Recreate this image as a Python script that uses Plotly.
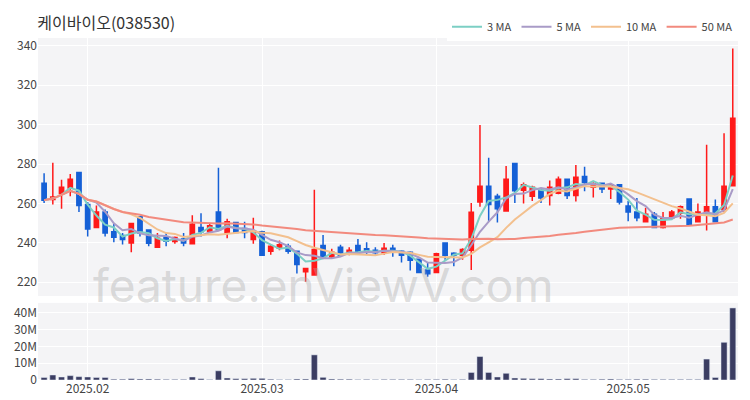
import pandas as pd
import plotly.graph_objects as go
from plotly.subplots import make_subplots

holidays = ['2025-01-27', '2025-01-28', '2025-01-29', '2025-01-30', '2025-03-03',
            '2025-05-01', '2025-05-05', '2025-05-06']
dates = [d.strftime('%Y-%m-%d') for d in pd.bdate_range('2025-01-21', '2025-05-22')
         if d.strftime('%Y-%m-%d') not in holidays]

opens = [270.3, 262, 265, 267.8, 275.7, 259.5, 247.8, 255.7, 245.7, 243.7,
         240, 253.3, 246.5, 237.8, 242.8, 240.7, 242, 239.5, 247.8, 245.8,
         255.7, 245, 250.3, 247.3, 241.7, 245.7, 235.8, 237.3, 238.3, 235.7,
         225.3, 223.7, 238.7, 232.8, 237.8, 234.5, 238.7, 237, 236.2, 235,
         237.3, 235.7, 235.3, 231.7, 226.2, 225, 240, 234.8, 233.7, 236.3,
         260.7, 268.7, 263.7, 256.2, 280.3, 266.7, 263.7, 266.7, 264, 265.2,
         272.3, 264, 273.7, 268.3, 270.3, 267.3, 269.5, 258.7, 255.7, 250.7,
         254.5, 247.8, 252.8, 255, 262.3, 250.7, 255.2, 258.3, 257, 269]
highs = [275.3, 280.7, 272, 275, 275.7, 260.7, 259, 257, 250, 245,
         249.8, 253.3, 246.5, 245, 245, 243.3, 245, 254, 255, 250,
         278.2, 252.3, 250.7, 250.7, 252.8, 246.2, 239, 241.2, 239.5, 235.7,
         227.3, 267, 244, 237, 239, 237.8, 242, 240.3, 237.8, 240,
         239, 236.2, 235.7, 231.7, 230, 235, 240, 235.3, 237.3, 260.3,
         299.8, 283.2, 265, 279, 280.3, 270.7, 269, 267.3, 271.7, 273.7,
         272.3, 279.5, 278.7, 270.8, 270.3, 270, 269.5, 261.2, 262.8, 257.8,
         255.7, 255.7, 256.7, 259, 262.3, 260, 289.8, 262, 295.7, 338.7]
lows = [260.3, 259.5, 257.3, 263.7, 255.7, 243.3, 247.8, 243.3, 240.3, 239.2,
        235.3, 243.3, 238.3, 237.8, 238.3, 239.5, 238.3, 239.5, 243.3, 245.3,
        246.7, 242.3, 245, 242.3, 239.5, 233.7, 234, 236.2, 234.5, 224.5,
        220.3, 223.7, 232, 232, 233, 233.7, 235, 234, 234, 234,
        233, 230, 226, 225, 222.8, 225, 231.5, 228.2, 231.5, 226.2,
        258.3, 250.7, 250.3, 256.2, 260.3, 260, 261.2, 260.3, 259, 264.7,
        262.3, 261, 266.2, 263, 265.3, 262.3, 259.5, 251, 251, 250.7,
        247.8, 247.3, 252.3, 252.3, 249.5, 250.7, 246.3, 250.7, 255.7, 268.7]
closes = [261.7, 263.3, 268.2, 272.3, 259, 247, 255.7, 245, 242.8, 241.7,
          249.8, 245, 239.8, 242.3, 240.8, 242.7, 240, 249.5, 245.7, 248.7,
          246.7, 250.7, 245.3, 245.3, 245.3, 233.7, 238.3, 239, 235.7, 229,
          227, 236.7, 232.8, 235.3, 233.7, 236.2, 235.7, 235.7, 235, 237.3,
          235.7, 233.7, 231.2, 225, 224.3, 234.5, 233.7, 233.7, 236.7, 255.5,
          268.7, 259.5, 257.3, 272.3, 266.5, 269.5, 268.3, 262.8, 268.3, 272.3,
          264, 273.3, 270.7, 270, 267.3, 269.5, 260.7, 255.7, 252.8, 254.5,
          247.8, 252.5, 255.7, 258.3, 249.5, 255.7, 258.3, 250.7, 268.7, 303.3]
volumes_m = [1.5, 3, 1.8, 2.6, 2, 1.8, 1.5, 1.5, 0.5, 0.5,
             0.8, 0.6, 0.6, 0.5, 0.4, 0.4, 0.4, 1.8, 0.8, 0.3,
             5.5, 1.2, 0.8, 0.8, 1, 1, 0.5, 0.3, 0.3, 0.6,
             0.6, 15, 1.6, 0.6, 0.5, 0.5, 0.3, 0.4, 0.3, 0.4,
             0.4, 0.4, 0.4, 0.3, 0.4, 0.4, 0.5, 0.3, 0.4, 4.5,
             14, 4.5, 1.8, 4, 1.2, 1, 0.8, 0.8, 0.6, 0.6,
             0.8, 0.8, 0.4, 0.4, 0.5, 0.6, 0.4, 0.4, 0.5, 0.5,
             0.4, 0.4, 0.4, 0.4, 0.4, 0.4, 12.5, 1.5, 22.5, 43]
month_ticks = ['2025-02-03', '2025-03-04', '2025-04-01', '2025-05-02']
month_labels = ['2025.02', '2025.03', '2025.04', '2025.05']

df = pd.DataFrame({'date': dates, 'open': opens, 'high': highs, 'low': lows,
                   'close': closes, 'volume': [v * 1e6 for v in volumes_m]})

fig = make_subplots(rows=2, cols=1, shared_xaxes=True, row_heights=[0.77, 0.23], vertical_spacing=0.02)

fig.add_trace(go.Candlestick(x=df['date'], open=df['open'], high=df['high'], low=df['low'], close=df['close'],
                             increasing=dict(line=dict(color='#ff1a1a', width=1.5), fillcolor='#ff1a1a'),
                             decreasing=dict(line=dict(color='#1560d6', width=1.5), fillcolor='#1560d6'),
                             whiskerwidth=0, showlegend=False), row=1, col=1)

ma_colors = {3: '#7ccfc4', 5: '#a99bc7', 10: '#f3c08e', 50: '#f28a7e'}
for n, c in ma_colors.items():
    fig.add_trace(go.Scatter(x=df['date'], y=df['close'].rolling(n, min_periods=1).mean(),
                             mode='lines', line=dict(color=c, width=2), name=f'{n} MA'), row=1, col=1)

fig.add_trace(go.Bar(x=df['date'], y=df['volume'], marker_color='#3b3d62', showlegend=False), row=2, col=1)

fig.add_annotation(text='feature.enViewV.com', xref='paper', yref='paper', x=0.74, y=0.19,
                   showarrow=False, font=dict(size=46, color='rgba(170,170,170,0.4)', family='Inter'))

fig.update_xaxes(type='category', showgrid=True, gridcolor='white',
                 tickvals=month_ticks, ticktext=month_labels,
                 rangeslider_visible=False, range=[-0.7, len(dates) - 0.4])
fig.update_xaxes(showticklabels=False, row=1, col=1)
fig.update_yaxes(range=[213, 344], dtick=20, gridcolor='white', row=1, col=1)
fig.update_yaxes(range=[0, 46e6], tickvals=[0, 10e6, 20e6, 30e6, 40e6],
                 ticktext=['0', '10M', '20M', '30M', '40M'], gridcolor='white', row=2, col=1)

fig.update_layout(width=734, height=392, plot_bgcolor='#f4f4f6', paper_bgcolor='white',
                  margin=dict(l=30, r=4, t=26, b=18),
                  font=dict(family='Noto Sans CJK KR', size=12, color='#444'),
                  title=dict(text='케이바이오(038530)', x=0.04, y=0.975, font=dict(size=16, color='#333')),
                  legend=dict(orientation='h', x=1, xanchor='right', y=1.075, yanchor='top', font=dict(size=11)),
                  bargap=0.3)

fig.write_html('out.html')
